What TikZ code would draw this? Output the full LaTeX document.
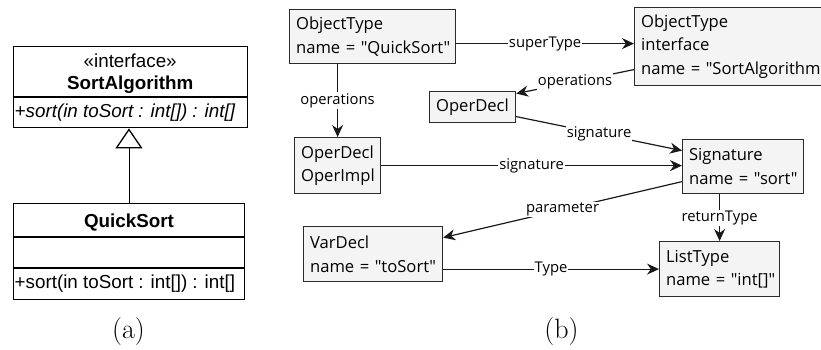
\documentclass[tikz,border=0pt]{standalone}
\usepackage{fontspec}
\newfontfamily\umlfont{Liberation Sans}
\newfontfamily\objfont{Open Sans}
\usetikzlibrary{arrows.meta,calc}
\definecolor{objfill}{HTML}{F4F4F4}
\definecolor{objline}{HTML}{2B2B2B}

\begin{document}
\begin{tikzpicture}[x=1pt,y=-1pt,
  umlbox/.style={draw=black, line width=1.4pt, anchor=north west, inner sep=0pt},
  umltext/.style={font=\umlfont\fontsize{18.8}{22}\selectfont, inner sep=0pt},
  umlbold/.style={font=\umlfont\bfseries\fontsize{18.8}{22}\selectfont, inner sep=0pt},
  objbox/.style={draw=objline, fill=objfill, line width=1.2pt, anchor=north west,
    inner xsep=6.5pt, inner ysep=0pt, align=left,
    font=\objfont\fontsize{16.6}{23.5}\selectfont},
  link/.style={draw=black!90, line width=1.2pt, -{Stealth[length=12pt,width=11pt]}},
  linklabel/.style={fill=white, inner sep=1pt, font=\objfont\fontsize{14.8}{16}\selectfont},
  caption/.style={font=\fontsize{28}{30}\selectfont, inner sep=0pt}
]
\useasboundingbox (0,0) rectangle (821,349);
\clip (0,0) rectangle (821,349);

% ---------- (a) UML class diagram ----------
\node[umlbox, minimum width=234, minimum height=81] (iface) at (12.5,46) {};
\draw[line width=1.4pt] (iface.west |- 0,97) -- (iface.east |- 0,97);
\node[umltext, anchor=base] (stereo) at (iface.north |- 0,67) {«interface»};
\node[umlbold, anchor=base] (ifname) at (iface.north |- 0,89) {SortAlgorithm};
\node[umltext, anchor=base west] (ifop) at (14.5,117) {\itshape +sort(in toSort : int[]) : int[]};

\node[umlbox, minimum width=231.5, minimum height=96] (quick) at (12.5,203) {};
\draw[line width=1.4pt] (quick.west |- 0,237) -- (quick.east |- 0,237);
\draw[line width=1.4pt] (quick.west |- 0,268) -- (quick.east |- 0,268);
\node[umlbold, anchor=base] (qsname) at (quick.north |- 0,227) {QuickSort};
\node[umltext, anchor=base west] (qsop) at (14.5,288) {+sort(in toSort : int[]) : int[]};

% realization of the interface
\draw[line width=0.9pt, -{Triangle[open,length=20pt,width=27pt,line width=1.3pt]}]
  (quick.north) -- (quick.north |- iface.south);

% ---------- (b) object graph ----------
\node[objbox, minimum width=166, minimum height=54, text width=153] (qs) at (289,9)
  {\mbox{ObjectType}\\\mbox{name = "QuickSort"}};
\node[objbox, minimum width=210, minimum height=78, text width=197] (sa) at (634,7)
  {\mbox{ObjectType}\\\mbox{interface}\\\mbox{name = "SortAlgorithm}};
\node[objbox, minimum width=86, minimum height=31, text width=73] (od) at (429,91)
  {\mbox{OperDecl}};
\node[objbox, minimum width=86, minimum height=56, text width=73] (oi) at (294,137)
  {\mbox{OperDecl}\\\mbox{OperImpl}};
\node[objbox, minimum width=121, minimum height=54, text width=108] (sig) at (682,139)
  {\mbox{Signature}\\\mbox{name = "sort"}};
\node[objbox, minimum width=139, minimum height=55, text width=126] (vd) at (303,226)
  {\mbox{VarDecl}\\\mbox{name = "toSort"}};
\node[objbox, minimum width=120, minimum height=55, text width=107] (lt) at (659,241)
  {\mbox{ListType}\\\mbox{name = "int[]"}};

\draw[link] ([yshift=-7pt]qs.east) -- ([yshift=-7pt]qs.east -| sa.west)
  node[linklabel, midway] {superType};
\draw[link] (oi.north |- qs.south) -- (oi.north)
  node[linklabel, midway] {operations};
\draw[link] ([yshift=-23pt]sa.west) -- ([yshift=13.5pt]od.east)
  node[linklabel, midway] {operations};
\draw[link] ([yshift=-9.5pt]od.east) -- ([yshift=16pt]sig.west)
  node[linklabel, midway] {signature};
\draw[link] (oi.east) -- (oi.east -| sig.west)
  node[linklabel, midway] {signature};
\draw[link] ([yshift=-15pt]sig.west) -- ([yshift=16.5pt]vd.east)
  node[linklabel, midway] {parameter};
\draw[link] (lt.north |- sig.south) -- (lt.north)
  node[linklabel, midway] {returnType};
\draw[link] (lt.west -| vd.east) -- (lt.west)
  node[linklabel, midway] {Type};

% ---------- captions ----------
\node[caption] (capa) at (128.5,332) {(a)};
\node[caption] (capb) at (561.5,332) {(b)};
\end{tikzpicture}
\end{document}
